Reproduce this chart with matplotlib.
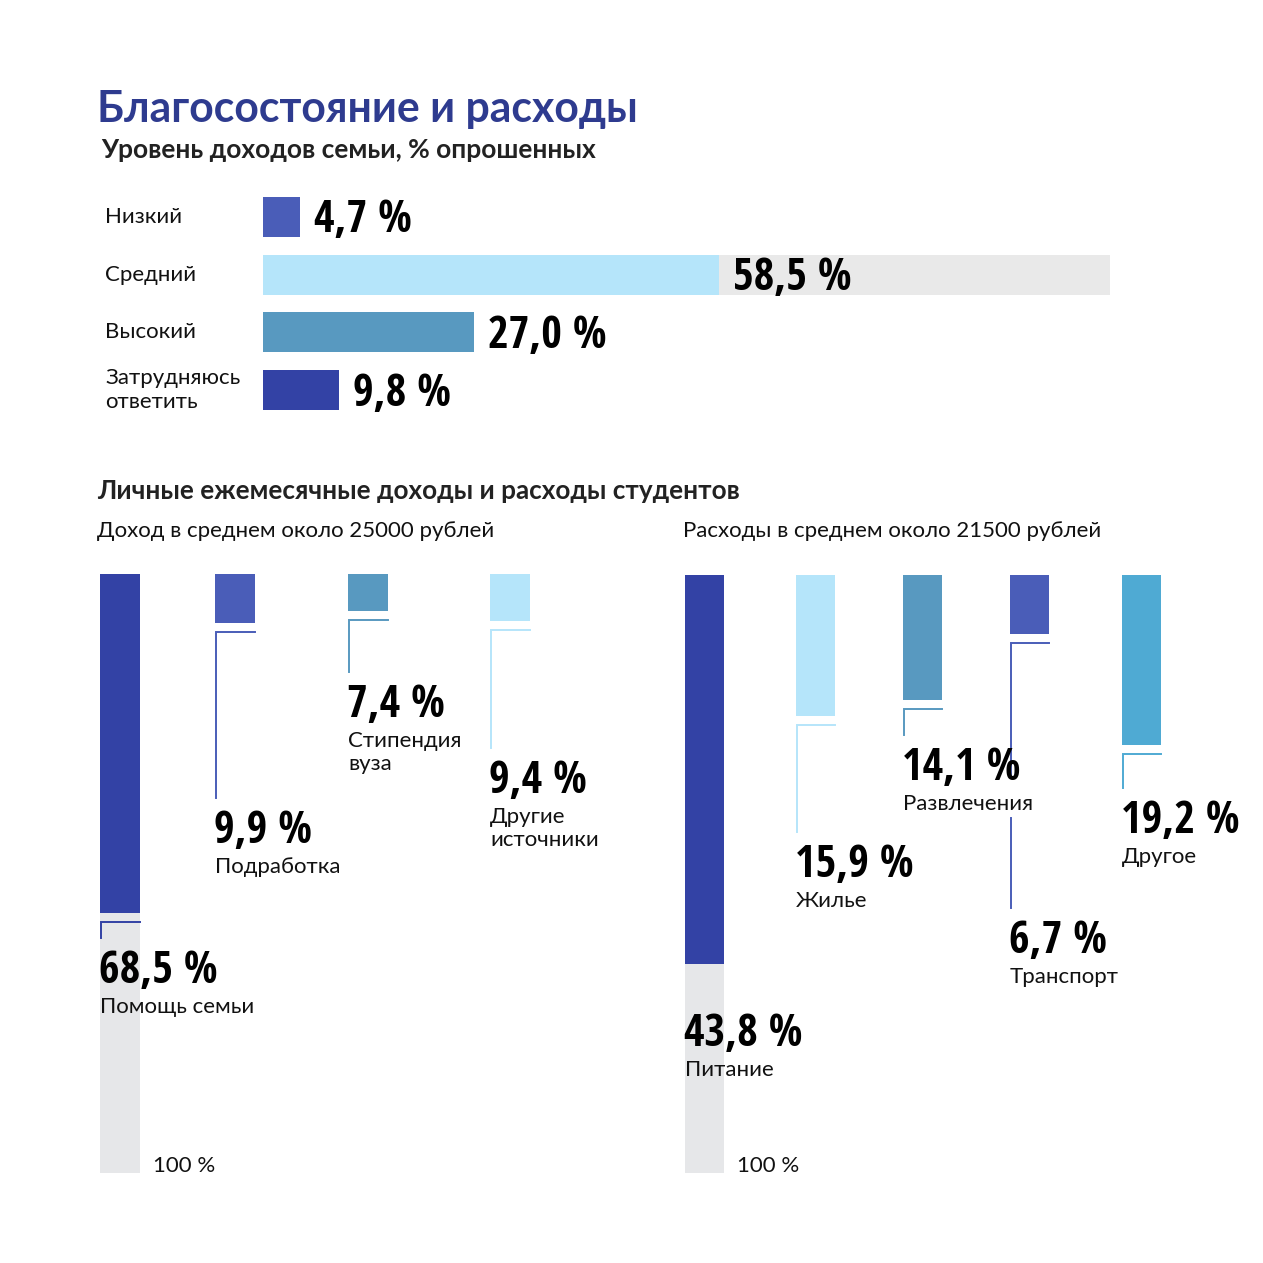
import matplotlib
matplotlib.use('Agg')
import matplotlib.pyplot as plt
from matplotlib.transforms import blended_transform_factory

# data
income_levels = ['Низкий', 'Средний', 'Высокий', 'Затрудняюсь\nответить']
income_shares = [4.7, 58.5, 27.0, 9.8]

income_sources = ['Помощь семьи', 'Подработка', 'Стипендия\nвуза', 'Другие\nисточники']
income_source_shares = [68.5, 9.9, 7.4, 9.4]

expense_items = ['Питание', 'Жилье', 'Развлечения', 'Транспорт', 'Другое']
expense_shares = [43.8, 15.9, 14.1, 6.7, 19.2]

title = 'Благосостояние и расходы'
subtitle = 'Уровень доходов семьи, % опрошенных'
section = 'Личные ежемесячные доходы и расходы студентов'
income_note = 'Доход в среднем около 25000 рублей'
expense_note = 'Расходы в среднем около 21500 рублей'

# colours
DARK = '#3342A5'
MID = '#4A5DB8'
STEEL = '#5899C0'
LIGHT = '#B5E5FA'
SKY = '#4FAAD3'
TRACK = '#E9E9E9'
TRACK2 = '#E6E7E9'
NAVY = '#2E3B8F'

LABEL_FONT = ['Lato', 'DejaVu Sans']
NUM_FONT = ['Open Sans Condensed', 'DejaVu Sans']

W = 1263
fig = plt.figure(figsize=(12.63, 12.63), dpi=100)


def fx(px):
    return px / W


def fy(px):
    return 1 - px / W


def pct(v):
    return f'{v:.1f}'.replace('.', ',') + ' %'


num_kw = dict(family=NUM_FONT, fontweight='bold', fontsize=32, color='black')
lab_kw = dict(family=LABEL_FONT, fontsize=16, color='#111111')

# headings
fig.text(fx(97), fy(122), title, family=LABEL_FONT, fontweight='bold', fontsize=30.8,
         color=NAVY, va='baseline')
fig.text(fx(101), fy(158), subtitle, family=LABEL_FONT, fontweight='bold', fontsize=19,
         color='#222222', va='baseline')
fig.text(fx(97), fy(499), section, family=LABEL_FONT, fontweight='bold', fontsize=18.8,
         color='#222222', va='baseline')
fig.text(fx(97), fy(531), income_note, va='center', **lab_kw)
fig.text(fx(683), fy(531), expense_note, va='center', **lab_kw)

# top: income level bars
ax = fig.add_axes([fx(263), fy(419), fx(1110) - fx(263), (419 - 188) / W])
ax.set_xlim(0, 108.6)
ax.set_ylim(3.5, -0.5)
ax.axis('off')
top_colors = [MID, LIGHT, STEEL, DARK]
ax.barh(1, ax.get_xlim()[1], height=0.69, color=TRACK)
ax.barh(range(len(income_shares)), income_shares, height=0.69, color=top_colors)
lab_tr = blended_transform_factory(fig.transFigure, ax.transData)
for i, (lab, v) in enumerate(zip(income_levels, income_shares)):
    ax.annotate(pct(v), (v, i), xytext=(14, -4), textcoords='offset pixels',
                va='center', ha='left', **num_kw)
    ax.text(fx(105), i, lab, transform=lab_tr, va='center', ha='left', linespacing=1.25, **lab_kw)


def column_chart(ax, xs, width, values, labels, colors, px_per_unit, leaders, breaks, track_x):
    u = 1 / px_per_unit
    ymax = ax.get_ylim()[0]
    ax.bar(track_x, ymax, width=width, align='edge', color=TRACK2)
    ax.bar(xs, values, width=width, align='edge', color=colors)
    for x, v, lab, c, lead, brk in zip(xs, values, labels, colors, leaders, breaks):
        y0 = v + 9 * u
        if lead is None:
            top = v + 48 * u
        else:
            if brk is None:
                ax.plot([x + width, x + 1, x + 1], [y0, y0, y0 + lead * u], color=c, lw=1.4,
                        solid_joinstyle='miter')
            else:
                ax.plot([x + width, x + 1, x + 1], [y0, y0, y0 + brk[0] * u], color=c, lw=1.4,
                        solid_joinstyle='miter')
                ax.plot([x + 1, x + 1], [y0 + brk[1] * u, y0 + lead * u], color=c, lw=1.4)
            top = y0 + (lead + 11) * u
        ax.text(x - 1, top, pct(v), va='top', ha='left', **num_kw)
        ax.text(x, top + 48 * u, lab, va='top', ha='left', linespacing=1.2, **lab_kw)
    ax.text(track_x + width + 13, ymax - 7 * u, '100 %', va='center', ha='left', **lab_kw)


# bottom left: income sources
axL = fig.add_axes([fx(90), fy(1173), fx(660) - fx(90), 599 / W])
axL.set_xlim(90, 660)
axL.set_ylim(121, 0)
axL.axis('off')
column_chart(axL, [100, 215, 348, 490], 40, income_source_shares, income_sources,
             [DARK, MID, STEEL, LIGHT], 599 / 121, [16, 166, 52, 118], [None] * 4, 100)

# bottom right: expenses
axR = fig.add_axes([fx(675), fy(1173), fx(1240) - fx(675), 598 / W])
axR.set_xlim(675, 1240)
axR.set_ylim(67.4, 0)
axR.axis('off')
column_chart(axR, [685, 796, 903, 1010, 1122], 39, expense_shares, expense_items,
             [DARK, LIGHT, STEEL, MID, SKY], 598 / 67.4, [None, 107, 26, 265, 34],
             [None, None, None, (135, 175), None], 685)

fig.savefig('out.png', dpi=100, facecolor='white')
